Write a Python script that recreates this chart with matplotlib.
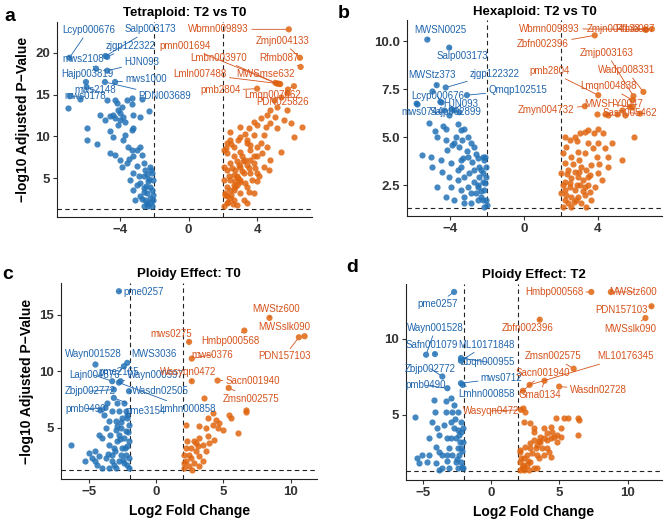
import matplotlib
matplotlib.use("Agg")
import matplotlib.pyplot as plt

plt.rcParams['font.family'] = ['Liberation Sans', 'DejaVu Sans']

# ---- panel a: Tetraploid T2 vs T0 ----
a_down_x = [-7.02, -6.34, -5.91, -5.91, -5.37, -5.17, -4.88, -4.78, -4.59, -4.29, -4.2, -4.1, -4.39, -4.29,
            -4.0, -4.0, -4.1, -3.8, -3.71, -3.61, -3.22, -2.83, -3.32, -3.9, -4.39, -4.59, -4.29, -4.0, -3.8,
            -3.51, -3.32, -3.22, -3.02, -3.61, -3.9, -3.32, -3.22, -2.83, -2.73, -3.22, -3.41, -3.22, -3.12,
            -2.83, -2.63, -2.54, -2.63, -2.44, -2.34, -2.24, -2.15, -2.44, -2.34, -2.63, -2.54, -2.24, -2.15,
            -2.24, -2.83, -3.02, -2.05, -2.05, -2.15, -2.3, -2.73, -3.32,
            -2.1, -2.2, -2.3, -2.4, -2.5, -2.6, -2.7, -2.45, -2.2, -2.9, -3.0, -2.6, -3.5, -3.7, -4.6]
a_down_y = [13.36, 14.47, 10.97, 9.58, 9.1, 12.56, 11.96, 14.35, 12.44, 14.35, 13.95, 13.16, 12.56, 12.16,
            11.96, 12.76, 11.37, 12.36, 11.76, 14.35, 12.56, 12.36, 14.55, 13.56, 9.97, 7.98, 7.79, 7.19, 9.58,
            8.78, 8.38, 7.59, 8.38, 6.79, 6.39, 10.77, 10.97, 8.78, 7.79, 5.6, 4.8, 3.61, 2.41,
            4.4, 5.2, 6.0, 3.81, 3.21, 4.6, 6.39, 5.6, 2.0, 1.62, 1.62, 2.41, 2.61, 3.61,
            4.0, 2.81, 4.2, 2.41, 4.8, 1.62, 13.0, 14.47, 13.9,
            3.0, 2.2, 4.9, 5.5, 4.1, 3.3, 2.5, 1.9, 6.0, 5.3, 6.4, 6.8, 7.3, 10.2, 10.6]
a_up_x = [2.05, 2.24, 2.44, 2.15, 2.63, 2.24, 2.83, 2.44, 3.02, 2.63, 3.22, 2.24, 3.51, 2.93, 2.44, 3.8,
          3.32, 2.63, 4.0, 2.24, 3.02, 3.61, 4.29, 2.63, 3.41, 4.0, 2.24, 3.02, 3.8, 2.44, 3.51, 4.0, 3.02,
          4.49, 4.78, 5.17, 5.56, 5.95, 6.15, 6.63, 5.37, 4.68, 4.0, 3.8, 3.22, 2.83, 4.78, 5.17, 4.98, 5.37,
          5.76, 4.59, 4.2, 5.07, 5.76, 3.8, 3.41, 2.44, 2.73, 3.12, 3.61, 4.0, 4.39, 4.78, 4.59, 2.09, 2.09,
          2.09, 2.24, 2.63, 3.02, 3.41, 3.71, 2.44, 2.83, 3.41, 3.8, 4.2, 3.02, 2.63,
          2.3, 2.5, 2.7, 2.9, 3.1, 3.3, 3.5, 2.35, 2.55, 2.8, 3.15, 3.6, 3.9, 4.1, 2.2, 2.5, 2.9, 3.3,
          3.6, 4.4, 2.1, 2.6, 3.4, 3.0, 2.7]
a_up_y = [1.62, 2.0, 2.61, 3.21, 3.61, 4.0, 4.2, 4.8, 4.8, 5.4, 5.6, 6.0, 6.19, 6.59, 6.79, 6.79,
          7.19, 7.59, 7.59, 7.98, 8.18, 8.38, 7.98, 8.78, 9.18, 8.78, 9.18, 9.97, 10.17, 10.57, 10.97, 11.37, 11.17,
          11.17, 11.57, 10.97, 11.96, 11.57, 9.97, 11.17, 8.18, 6.0, 4.6, 3.21, 2.41, 1.82, 13.16, 13.56, 14.35, 14.75,
          15.15, 12.56, 12.16, 12.36, 13.16, 11.76, 9.58, 9.58, 6.0, 7.59, 5.6, 5.6, 6.39, 7.19, 8.78, 4.8, 6.39,
          8.38, 2.81, 2.41, 3.21, 4.0, 4.8, 3.61, 5.2, 6.59, 7.59, 9.18, 6.39, 4.2,
          2.2, 3.0, 3.9, 5.0, 5.8, 4.4, 3.3, 5.3, 6.2, 7.0, 7.0, 7.2, 6.2, 5.2, 8.6, 9.1, 9.6, 10.3,
          9.0, 10.2, 3.0, 1.9, 2.0, 4.5, 4.6]
a_lab_names = ["Lcyp000676", "Salp003173", "zjgp122322", "mws2108", "HJN093", "Hajp003819", "mws1000",
               "mws2148", "mws0178", "PDN003689",
               "Wbmn009893", "Zmjn004133", "pmn001694", "Lmbn003970", "Rfmb087", "Lmln007488",
               "MWSmse632", "pmb2804", "Lmqn007662", "PDN025826"]
a_lab_x = [-6.95, -4.85, -4.75, -5.4, -4.74, -5.99, -4.29, -5.95, -6.93, -4.88,
           5.85, 6.5, 5.17, 5.07, 6.54, 5.27, 5.35, 4.0, 6.15, 5.8]
a_lab_y = [19.4, 19.6, 19.5, 18.1, 17.85, 16.5, 16.5, 15.9, 14.8, 16.5,
           22.8, 19.4, 16.3, 16.4, 18.3, 16.3, 16.25, 15.7, 16.0, 15.6]

# ---- panel b: Hexaploid T2 vs T0 ----
b_down_x = [-5.82, -5.0, -4.51, -4.33, -3.96, -4.05, -5.15, -4.69, -5.51, -5.05, -4.24, -3.6, -3.42, -3.24,
            -3.69, -3.33, -3.05, -3.78, -3.51, -2.87, -2.69, -4.24, -4.15, -4.51, -3.96, -3.42, -3.05, -2.51,
            -2.24, -2.15, -2.42, -2.69, -2.96, -3.24, -3.6, -3.96, -4.24, -3.78, -3.24, -2.87, -2.51, -2.24,
            -2.05, -2.33, -2.05, -2.0, -2.51, -2.15, -2.69, -3.05, -3.42, -2.87, -3.24, -4.05, -4.42, -3.42,
            -2.05, -2.1, -2.24, -2.42, -2.6, -2.24, -4.69, -4.96,
            -2.1, -2.3, -2.5, -2.15, -2.35, -2.8, -3.1, -3.3, -2.6, -3.6, -3.9, -4.4, -4.8]
b_down_y = [6.75, 7.41, 6.84, 6.4, 6.49, 6.15, 5.75, 5.02, 4.06, 3.98, 5.45, 5.71, 5.36, 5.45,
            5.02, 4.84, 5.02, 4.67, 4.5, 4.67, 4.5, 4.84, 4.32, 3.8, 3.63, 3.8, 3.98, 3.89,
            3.98, 3.8, 3.45, 3.28, 3.11, 2.93, 2.76, 2.41, 1.89, 1.72, 1.89, 2.07, 2.41, 2.67,
            2.93, 1.89, 1.72, 1.46, 1.72, 2.24, 2.67, 2.41, 2.24, 1.55, 1.55, 2.93, 3.19, 3.45,
            3.45, 3.98, 3.11, 2.93, 2.07, 1.72, 2.41, 3.45,
            2.6, 3.3, 2.5, 1.35, 2.2, 3.7, 4.3, 3.9, 4.1, 3.3, 4.6, 5.6, 5.3]
b_up_x = [2.13, 2.22, 2.4, 2.58, 2.85, 3.13, 3.4, 2.22, 2.49, 2.76, 3.04, 3.31, 3.58, 3.85, 2.22, 2.58,
          2.95, 3.22, 3.49, 2.04, 2.4, 2.76, 3.13, 3.4, 3.67, 4.04, 4.22, 2.22, 2.58, 2.95, 2.13, 2.31, 2.49,
          2.76, 3.04, 3.49, 4.04, 4.31, 4.04, 4.4, 4.58, 4.76, 5.31, 3.49, 3.31, 3.76, 3.95, 4.58, 6.0, 2.22,
          3.31, 2.04, 2.95, 3.67, 3.31, 2.58, 4.4, 4.58, 5.04, 5.31, 5.49, 5.85, 3.95,
          2.3, 2.5, 2.7, 2.9, 3.0, 3.2, 3.5, 2.35, 2.65, 3.6, 3.0, 2.9, 3.8, 4.1, 2.1]
b_up_y = [1.37, 1.72, 1.55, 1.89, 1.72, 1.55, 1.37, 2.24, 2.41, 2.24, 2.5, 2.41, 2.15, 2.41, 2.67, 2.85,
          2.93, 2.76, 2.93, 3.11, 3.28, 3.19, 3.45, 3.28, 3.54, 3.11, 2.76, 3.63, 3.98, 4.24, 4.15, 4.5, 4.84,
          5.02, 5.19, 5.36, 5.45, 5.19, 4.67, 4.41, 3.98, 4.67, 3.8, 4.67, 4.15, 4.41, 3.98, 3.45, 5.02, 5.02,
          5.28, 2.07, 1.89, 1.72, 1.98, 1.37, 6.23, 6.15, 6.23, 6.41, 6.15, 6.58, 6.2,
          2.0, 2.6, 1.6, 2.5, 3.2, 2.2, 2.5, 3.1, 3.6, 3.0, 3.8, 4.8, 5.2, 3.6, 2.5]
b_lab_names = ["MWSN0025", "Salp003173", "MWStz373", "zjgp122322", "Lcyp000676", "Qmqp102515", "HJN093",
               "mws0744", "Sajp002899",
               "Wbmn009893", "Zmjn004133", "Rfmb087", "Zbfn002396", "Zmjp003163", "Wadp008331", "pmb2804",
               "Lmqn004838", "MWSHY0047", "Zmyn004732", "Sasn005462"]
b_lab_x = [-5.24, -4.05, -4.73, -4.24, -4.53, -3.09, -3.78, -5.82, -3.5,
           6.58, 6.64, 6.95, 3.85, 5.95, 6.49, 4.04, 5.9, 5.76, 3.31, 6.31]
b_lab_y = [10.09, 9.67, 7.71, 7.59, 6.84, 7.19, 6.4, 6.75, 6.3,
           10.62, 10.6, 10.64, 10.31, 7.14, 7.36, 7.19, 6.93, 6.58, 6.61, 6.23]

# ---- panel c: Ploidy effect T0 ----
c_down_x = [-6.33, -5.04, -4.54, -4.41, -4.29, -4.04, -3.92, -3.79, -3.54, -3.42, -3.29, -3.17, -3.04, -2.92,
            -2.79, -2.67, -2.54, -2.42, -2.29, -2.17, -2.04, -2.04, -2.04, -2.29, -2.17, -2.54, -2.79, -3.04,
            -3.54, -3.79, -4.04, -4.79, -3.29, -3.54, -2.92, -2.42, -4.17, -3.67, -2.29, -2.79, -3.17, -2.67,
            -2.42, -2.04, -2.17, -3.04, -4.29, -4.54, -5.29,
            -2.1, -2.3, -2.5, -2.7, -2.9, -3.1, -3.3, -2.2, -2.6, -3.6]
c_down_y = [3.53, 2.79, 2.94, 1.76, 2.5, 4.12, 6.18, 5.0, 3.53, 4.41, 2.65, 1.76, 5.59, 3.82,
            6.47, 5.0, 5.88, 4.12, 2.65, 1.76, 5.29, 3.82, 2.35, 6.47, 5.88, 3.24, 2.06, 1.47,
            1.47, 2.35, 1.47, 2.35, 6.47, 5.59, 7.21, 7.21, 6.62, 7.21, 4.71, 4.41, 3.24, 2.65,
            1.91, 1.47, 3.38, 4.85, 4.41, 2.06, 2.06,
            4.6, 3.2, 2.2, 4.0, 5.2, 3.0, 2.1, 6.1, 5.5, 2.7]
c_up_x = [3.57, 6.66, 6.71, 5.44, 5.56, 4.19, 3.82, 4.44, 4.69, 3.19, 3.69, 4.19, 4.56, 4.94, 6.06, 2.82,
          3.19, 3.44, 3.82, 3.94, 4.31, 2.19, 2.44, 2.57, 2.94, 3.19, 2.19, 2.07, 2.44, 2.82, 2.69, 3.19,
          3.44, 2.07, 2.32, 2.94, 2.07, 3.69, 2.57, 3.07, 2.19]
c_up_y = [7.65, 6.62, 6.41, 6.18, 5.88, 6.32, 5.88, 5.74, 5.44, 5.15, 5.0, 5.29, 5.0, 4.85, 4.56, 3.82,
          4.12, 3.53, 4.26, 3.68, 3.97, 3.24, 2.65, 3.24, 2.94, 2.5, 2.06, 1.47, 1.62, 1.91, 1.32, 1.62,
          2.06, 2.65, 3.82, 3.68, 1.91, 2.94, 2.35, 3.38, 5.24]
c_lab_names = ["pme0257", "Wayn001528", "MWS3036", "Lajn004876", "pme2165", "Wayn000597", "Zbjp002772",
               "Wasdn02505", "pmb0490", "pme3154", "Lmhn000858",
               "mws0275", "Hmbp000568", "MWStz600", "MWSslk090", "PDN157103", "mws0376", "Wasyqn0472",
               "Sacn001940", "Zmsn002575"]
c_lab_x = [-2.79, -4.54, -2.17, -3.29, -2.42, -2.67, -3.17, -2.04, -3.79, -3.17, -2.79,
           2.44, 6.56, 8.43, 11.05, 10.62, 2.64, 2.64, 4.56, 5.39]
c_lab_y = [17.06, 10.59, 10.74, 9.12, 10.44, 9.12, 8.38, 8.24, 6.76, 7.65, 9.0,
           12.59, 13.59, 14.71, 13.09, 13.0, 11.12, 9.12, 9.18, 8.53]

# ---- panel d: Ploidy effect T2 ----
d_down_x = [-5.59, -5.42, -5.3, -5.05, -4.68, -4.55, -4.31, -4.11, -3.94, -3.81, -4.06, -3.56, -3.56, -3.32,
            -3.32, -3.19, -3.07, -2.95, -2.82, -2.7, -2.57, -2.45, -2.33, -2.2, -2.08, -2.57, -2.33, -2.08,
            -2.2, -2.08, -2.45, -2.7, -2.95, -4.18, -3.44, -4.55, -4.06, -3.81, -3.07, -2.82, -2.45, -2.2,
            -3.19, -3.81,
            -2.1, -2.3, -2.5, -2.2, -2.6, -2.9, -3.2, -2.15, -2.4]
d_down_y = [4.89, 2.15, 1.82, 2.37, 1.93, 2.37, 4.56, 5.22, 4.12, 3.68, 2.92, 2.37, 1.49, 5.22,
            5.88, 3.46, 2.81, 4.56, 5.22, 4.12, 3.46, 2.81, 2.37, 1.93, 1.49, 1.93, 3.68, 3.25,
            4.56, 4.12, 5.22, 5.66, 6.1, 5.99, 4.34, 3.46, 1.82, 1.38, 1.49, 2.37, 1.49, 2.81,
            2.37, 2.59,
            2.6, 3.2, 2.1, 3.9, 4.7, 3.5, 2.0, 1.6, 4.0]
d_up_x = [2.33, 2.38, 2.87, 3.12, 3.61, 3.86, 4.11, 4.36, 4.48, 4.73, 5.35, 5.59, 6.34, 6.46, 6.34, 3.12,
          3.37, 3.61, 3.86, 4.11, 4.36, 4.6, 4.85, 5.1, 2.87, 2.62, 2.38, 2.13, 2.13, 2.25, 2.62, 2.87,
          3.12, 3.49, 3.37, 3.86, 4.36, 4.85, 3.74, 4.11, 3.17, 2.5, 2.87, 2.13, 2.38, 2.75, 3.37, 4.23, 5.1,
          2.2, 2.3, 2.5, 2.7, 3.0, 3.3, 3.5, 2.4, 2.15]
d_up_y = [5.44, 4.56, 4.45, 3.9, 3.57, 4.12, 3.79, 4.23, 3.9, 4.78, 4.78, 4.78, 4.78, 4.67, 3.68, 3.36,
          3.03, 3.25, 3.46, 3.36, 3.46, 3.57, 3.68, 3.57, 2.81, 2.37, 2.15, 1.93, 2.59, 1.49, 1.71, 1.93,
          1.49, 2.15, 2.37, 2.37, 2.26, 3.25, 2.81, 2.81, 4.12, 5.22, 3.14, 2.7, 1.6, 1.38, 1.49, 2.59, 4.12,
          2.2, 1.7, 2.9, 2.0, 2.5, 2.8, 3.3, 1.4, 1.35]
d_lab_names = ["pme0257", "Wayn001528", "Safn001079", "ML10171848", "Zbqn000955", "Zbjp002772", "pmb0490",
               "mws0712", "Lmhn000858",
               "Hmbp000568", "MWStz600", "PDN157103", "MWSslk090", "Zbfn002396", "Zmsn002575", "ML10176345",
               "Sacn001940", "Wasdn02728", "Gma0134", "Wasyqn0472"]
d_lab_x = [-2.7, -4.75, -4.1, -2.2, -2.2, -3.56, -3.19, -2.2, -2.08,
           7.33, 8.76, 11.73, 11.29, 3.56, 6.04, 2.82, 2.33, 4.98, 3.91, 2.18]
d_lab_y = [13.07, 8.95, 8.99, 8.55, 8.73, 7.52, 6.75, 7.08, 6.97,
           13.07, 13.07, 12.13, 11.36, 11.25, 8.03, 6.97, 6.58, 6.86, 7.24, 5.33]

# ---- label text positions (layout) ----
a_txt = [(-5.85, 22.7), (-2.24, 22.8), (-3.41, 20.8), (-6.15, 19.3), (-2.73, 18.85), (-5.91, 17.45),
         (-2.48, 16.8), (-5.46, 15.5), (-6.05, 14.8), (-1.37, 14.8),
         (1.76, 22.8), (5.46, 21.4), (-0.2, 20.8), (1.76, 19.4), (5.27, 19.4), (0.68, 17.45),
         (4.49, 17.45), (1.85, 15.5), (4.88, 14.9), (5.46, 14.15)]
b_txt = [(-4.51, 10.57), (-3.33, 9.22), (-4.96, 8.23), (-1.6, 8.32), (-4.69, 7.14), (-0.33, 7.45),
         (-3.42, 6.72), (-5.51, 6.32), (-3.69, 6.32),
         (1.4, 10.66), (4.85, 10.66), (6.04, 10.66), (1.04, 9.84), (4.49, 9.39), (5.58, 8.49), (1.4, 8.45),
         (4.58, 7.66), (4.85, 6.72), (1.22, 6.41), (5.76, 6.27)]
c_txt = [(-0.92, 17.0), (-4.68, 11.53), (-0.17, 11.53), (-4.63, 9.65), (-2.82, 9.94), (-0.05, 9.71),
         (-4.95, 8.24), (0.32, 8.24), (-5.25, 6.71), (-0.79, 6.53), (2.3, 6.71),
         (1.14, 13.32), (5.52, 12.71), (8.91, 15.53), (9.55, 13.88), (9.53, 11.32), (4.16, 11.47),
         (2.38, 9.94), (7.18, 9.18), (7.08, 7.59)]
d_txt = [(-3.94, 12.28), (-4.06, 10.7), (-4.31, 9.61), (-0.35, 9.61), (-0.22, 8.46), (-4.43, 8.03),
         (-4.8, 6.93), (0.77, 7.41), (-0.35, 6.36),
         (4.6, 13.07), (10.42, 13.07), (9.55, 11.91), (10.17, 10.66), (2.67, 10.7), (4.55, 8.84),
         (9.85, 8.84), (3.81, 7.74), (7.82, 6.64), (3.56, 6.32), (0.02, 5.26)]

BLUE = "#2372b6"
ORANGE = "#e0650f"
BLUE_TXT = "#2066ad"
ORANGE_TXT = "#d6531c"

fig = plt.figure(figsize=(6.64, 5.19), dpi=100)

panels = [
    ("a", "Tetraploid: T2 vs T0", [0.0858, 0.582, 0.384, 0.376], (-7.68, 7.2), (0.36, 23.7),
     [-4, 0, 4], [5, 10, 15, 20], "{:.0f}",
     a_down_x, a_down_y, a_up_x, a_up_y, a_lab_names, a_lab_x, a_lab_y, a_txt, (0.006, 0.985)),
    ("b", "Hexaploid: T2 vs T0", [0.613, 0.584, 0.384, 0.377], (-6.34, 7.5), (0.89, 11.1),
     [-4, 0, 4], [2.5, 5.0, 7.5, 10.0], "{:.1f}",
     b_down_x, b_down_y, b_up_x, b_up_y, b_lab_names, b_lab_x, b_lab_y, b_txt, (0.508, 0.99)),
    ("c", "Ploidy Effect: T0", [0.092, 0.077, 0.386, 0.378], (-7.1, 12.0), (0.49, 17.8),
     [-5, 0, 5, 10], [5, 10, 15], "{:.0f}",
     c_down_x, c_down_y, c_up_x, c_up_y, c_lab_names, c_lab_x, c_lab_y, c_txt, (0.004, 0.487)),
    ("d", "Ploidy Effect: T2", [0.611, 0.075, 0.386, 0.378], (-6.24, 12.5), (0.72, 13.6),
     [-5, 0, 5, 10], [5, 10], "{:.0f}",
     d_down_x, d_down_y, d_up_x, d_up_y, d_lab_names, d_lab_x, d_lab_y, d_txt, (0.521, 0.5)),
]

for (letter, title, rect, xl, yl, xt, yt, fmt, dx, dy, ux, uy, names, lx, ly, txt, lpos) in panels:
    ax = fig.add_axes(rect)
    ax.scatter(dx, dy, s=20, color=BLUE, alpha=0.85, linewidths=0, zorder=2)
    ax.scatter(ux, uy, s=20, color=ORANGE, alpha=0.85, linewidths=0, zorder=2)
    lab_col = [BLUE if v < 0 else ORANGE for v in lx]
    ax.scatter(lx, ly, s=20, color=lab_col, alpha=0.85, linewidths=0, zorder=2)
    for n, x, y, (tx, ty) in zip(names, lx, ly, txt):
        col = BLUE_TXT if x < 0 else ORANGE_TXT
        ax.annotate(n, xy=(x, y), xytext=(tx, ty), fontsize=7, color=col,
                    ha="center", va="center", zorder=4,
                    arrowprops=dict(arrowstyle="-", color=col, lw=0.6, shrinkA=0, shrinkB=2))
    ax.axvline(-2, color="#222222", lw=0.8, ls=(0, (4, 3)), zorder=1)
    ax.axvline(2, color="#222222", lw=0.8, ls=(0, (4, 3)), zorder=1)
    ax.axhline(1.3, color="#222222", lw=0.8, ls=(0, (4, 3)), zorder=1)
    ax.set_xlim(*xl)
    ax.set_ylim(*yl)
    ax.set_xticks(xt)
    ax.set_yticks(yt)
    ax.set_yticklabels([fmt.format(v) for v in yt])
    ax.spines["top"].set_visible(False)
    ax.spines["right"].set_visible(False)
    for s in ("left", "bottom"):
        ax.spines[s].set_linewidth(0.8)
        ax.spines[s].set_color("#222222")
    ax.tick_params(length=3, width=0.8, color="#333333", labelsize=9.5, labelcolor="#333333", pad=2)
    for t in ax.get_xticklabels() + ax.get_yticklabels():
        t.set_fontweight("bold")
    ax.set_title(title, fontsize=9.5, fontweight="bold", pad=4)
    if letter in ("a", "c"):
        ax.set_ylabel("\u2212log10 Adjusted P\u2212Value", fontsize=10, fontweight="bold", labelpad=4)
    if letter in ("c", "d"):
        ax.set_xlabel("Log2 Fold Change", fontsize=10, fontweight="bold", labelpad=4)
    fig.text(lpos[0], lpos[1], letter, fontsize=14, fontweight="bold", ha="left", va="top")

fig.savefig("out.png", dpi=100)
